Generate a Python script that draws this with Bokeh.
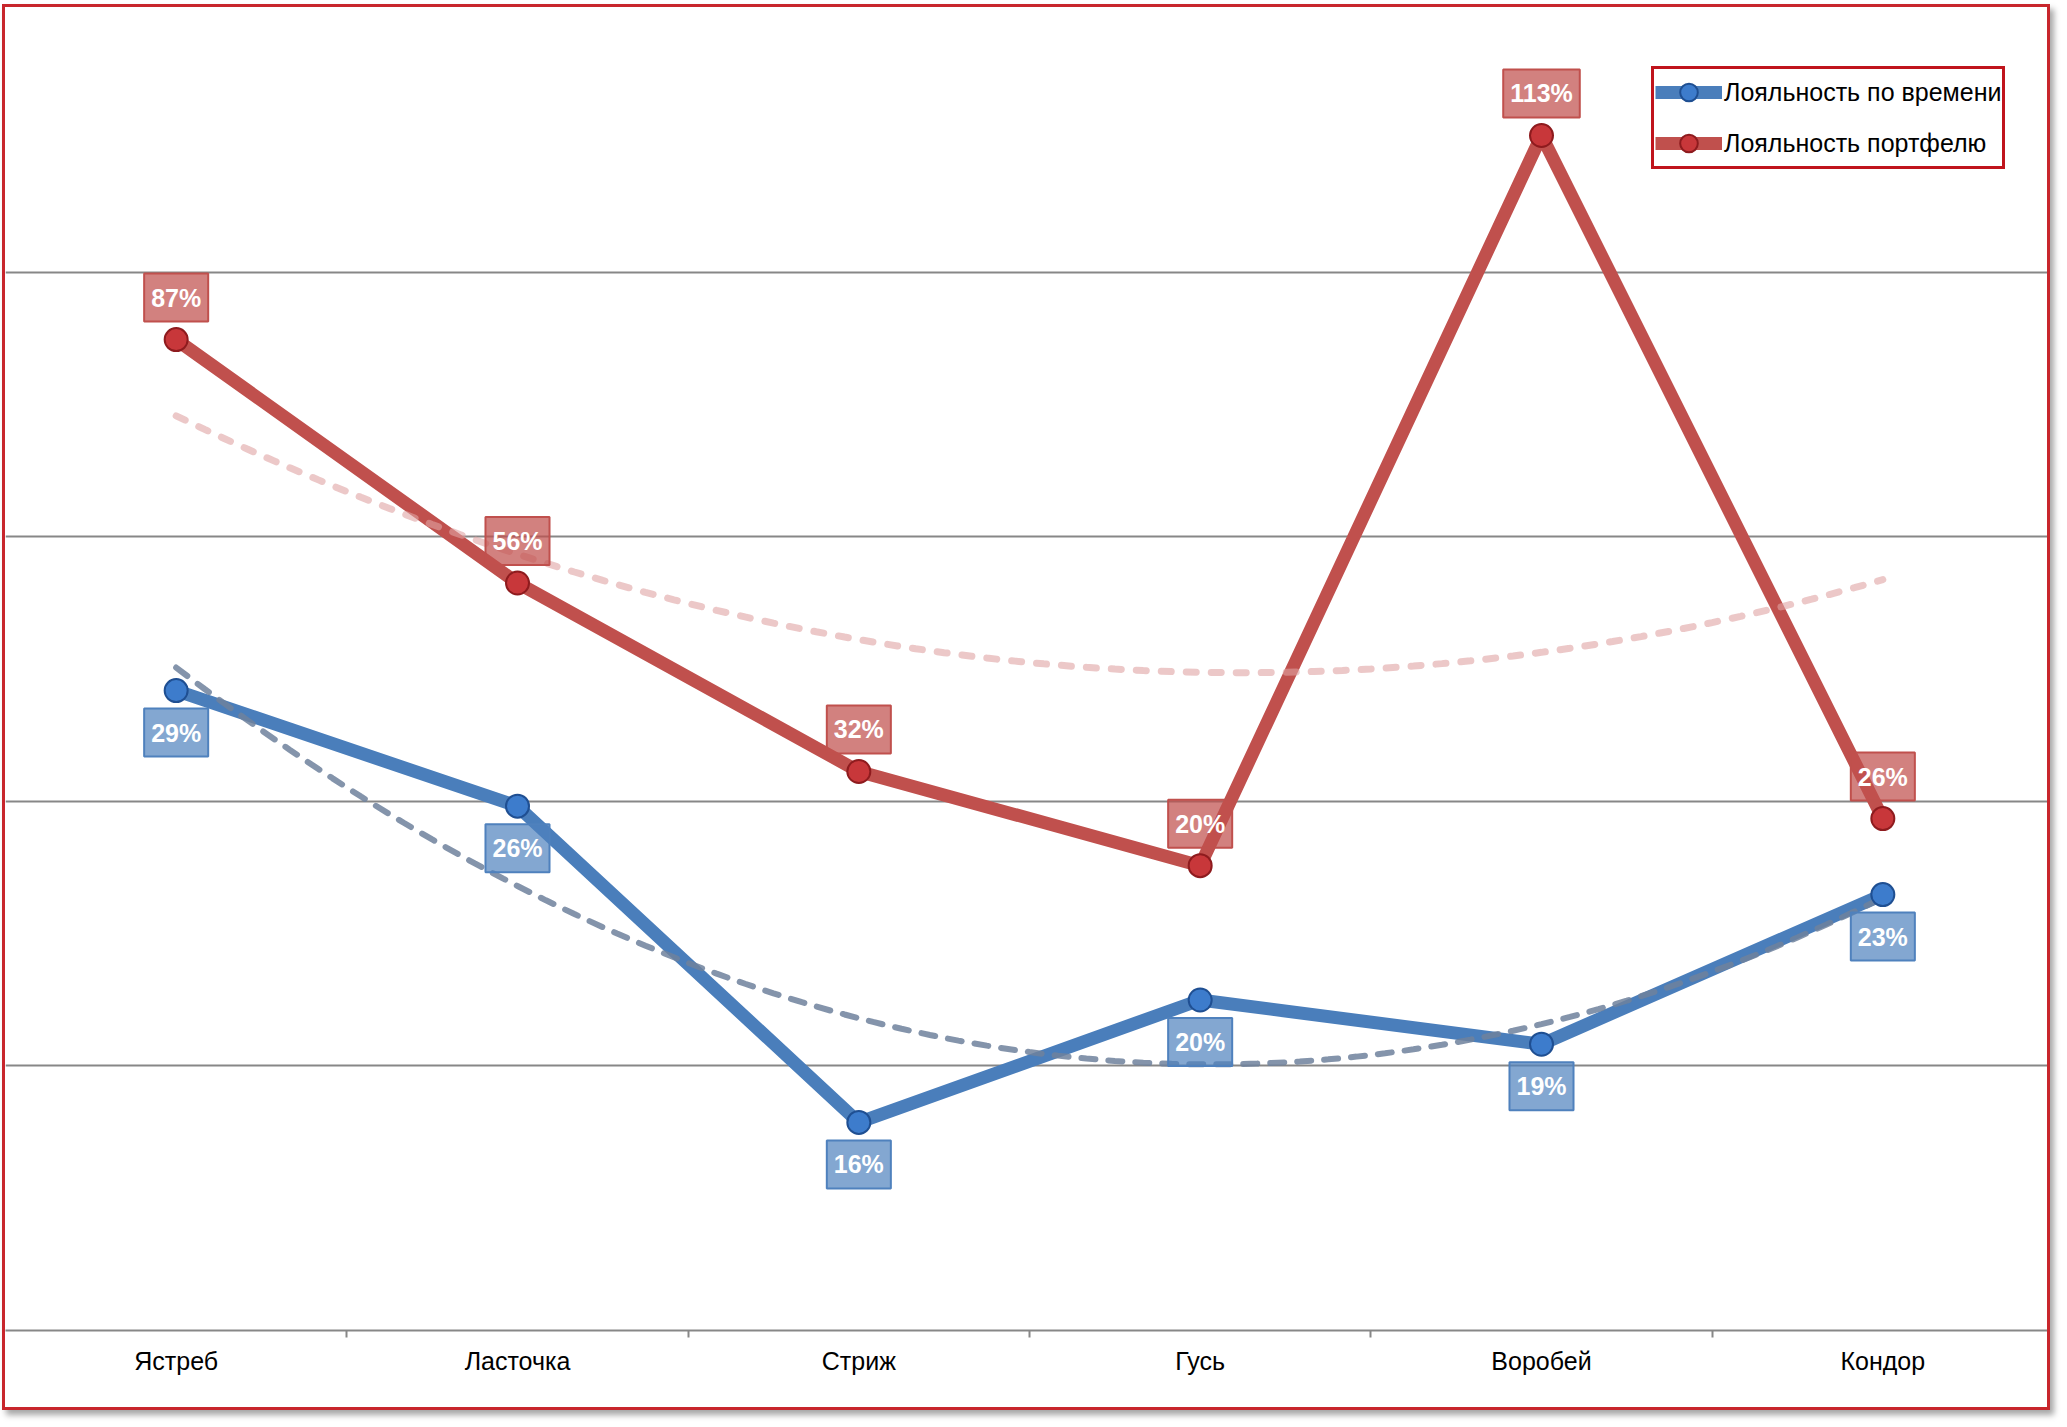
import numpy as np
from bokeh.plotting import figure
from bokeh.models import Range1d, FixedTicker, Legend, LegendItem, Label
from bokeh.embed import file_html
from bokeh.resources import INLINE

# ---------------- data ----------------
categories = ["Ястреб", "Ласточка", "Стриж", "Гусь", "Воробей", "Кондор"]
time_loyalty = [29.0, 25.6, 16.3, 19.9, 18.6, 23.0]        # Лояльность по времени, %
portfolio_loyalty = [87, 56, 32, 20, 113, 26]              # Лояльность портфелю, %
series_names = ["Лояльность по времени", "Лояльность портфелю"]

# ---------------- styles ----------------
FONT = "Liberation Sans"
RED = "#c0504d"
RED_FILL = "#c8373a"
RED_EDGE = "#8e1b1e"
BLUE = "#4a7ebb"
BLUE_FILL = "#3d7ccc"
BLUE_EDGE = "#1f4f92"
GRID = "#878787"

x = list(range(len(categories)))

red_lo, red_hi = -39.2, 129.3
blue_lo, blue_hi = 10.18, 49.09

p = figure(width=2048, height=1406,
           x_range=Range1d(-0.5, len(categories) - 0.5),
           y_range=Range1d(red_lo, red_hi),
           output_backend="svg", toolbar_location=None,
           min_border_left=0, min_border_right=0, min_border_top=0,
           min_border_bottom=83,
           background_fill_color="white", border_fill_color="white",
           outline_line_color=None,
           styles={"border": "3px solid #c8262c",
                   "margin-left": "2px", "margin-top": "4px",
                   "box-shadow": "4px 5px 6px rgba(0,0,0,0.35)"})
p.extra_y_ranges = {"time": Range1d(blue_lo, blue_hi)}
p.yaxis.visible = False

# horizontal gridlines (5 equal bands)
step = (red_hi - red_lo) / 5
p.ygrid.ticker = FixedTicker(ticks=[red_lo + k * step for k in range(1, 5)])
p.ygrid.grid_line_color = GRID
p.ygrid.grid_line_width = 2
p.xgrid.visible = False

# x axis
xa = p.xaxis[0]
xa.ticker = FixedTicker(ticks=x, minor_ticks=[i + 0.5 for i in x[:-1]])
xa.major_label_overrides = {i: c for i, c in zip(x, categories)}
xa.major_tick_line_color = None
xa.major_tick_out = 7
xa.major_tick_in = 0
xa.minor_tick_line_color = GRID
xa.minor_tick_line_width = 2
xa.minor_tick_out = 7
xa.minor_tick_in = 0
xa.axis_line_color = GRID
xa.axis_line_width = 2
xa.major_label_text_font = FONT
xa.major_label_text_font_size = "25px"
xa.major_label_text_color = "#000000"
xa.major_label_standoff = 9

# series lines
red_line = p.line(x, portfolio_loyalty, line_color=RED, line_width=13, line_join="round")
blue_line = p.line(x, time_loyalty, y_range_name="time", line_color=BLUE, line_width=13,
                   line_join="round")

# polynomial (order 2) trendlines
xt = np.linspace(0, len(categories) - 1, 121)
red_trend = np.polyval(np.polyfit(x, portfolio_loyalty, 2), xt)
blue_trend = np.polyval(np.polyfit(x, time_loyalty, 2), xt)
p.line(xt, red_trend, line_color="#e0a3a3", line_alpha=0.6, line_width=7,
       line_dash="10 15", line_cap="round")
p.line(xt, blue_trend, y_range_name="time", line_color="#6f819c", line_alpha=0.85,
       line_width=6, line_dash="14 13", line_cap="round")

# markers
red_pts = p.scatter(x, portfolio_loyalty, marker="circle", size=23, fill_color=RED_FILL,
                    line_color=RED_EDGE, line_width=2)
blue_pts = p.scatter(x, time_loyalty, y_range_name="time", marker="circle", size=23,
                     fill_color=BLUE_FILL, line_color=BLUE_EDGE, line_width=2)

# data labels
for xi, v in zip(x, portfolio_loyalty):
    p.add_layout(Label(x=xi, y=v, text=f"{round(v)}%", y_offset=42,
                       text_align="center", text_baseline="middle",
                       text_font=FONT, text_font_size="25px", text_font_style="bold",
                       text_color="white",
                       background_fill_color=RED, background_fill_alpha=0.72,
                       border_line_color=RED, border_line_width=2, padding=(7, 10)))
for xi, v in zip(x, time_loyalty):
    p.add_layout(Label(x=xi, y=v, y_range_name="time", text=f"{round(v)}%", y_offset=-42,
                       text_align="center", text_baseline="middle",
                       text_font=FONT, text_font_size="25px", text_font_style="bold",
                       text_color="white",
                       background_fill_color="#4f81bd", background_fill_alpha=0.7,
                       border_line_color="#4f81bd", border_line_width=2, padding=(7, 10)))

# legend
legend = Legend(items=[LegendItem(label=series_names[0], renderers=[blue_line, blue_pts]),
                       LegendItem(label=series_names[1], renderers=[red_line, red_pts])],
                location=(1646, 1161),
                border_line_color="#c0141c", border_line_width=3, border_line_alpha=1.0,
                background_fill_color="white", background_fill_alpha=1.0,
                label_text_font=FONT, label_text_font_size="25px",
                label_text_color="#000000",
                glyph_width=67, glyph_height=44, label_height=30,
                label_standoff=2, spacing=7, padding=1, margin=0)
p.add_layout(legend)

open("out.html", "w").write(file_html(p, INLINE))
